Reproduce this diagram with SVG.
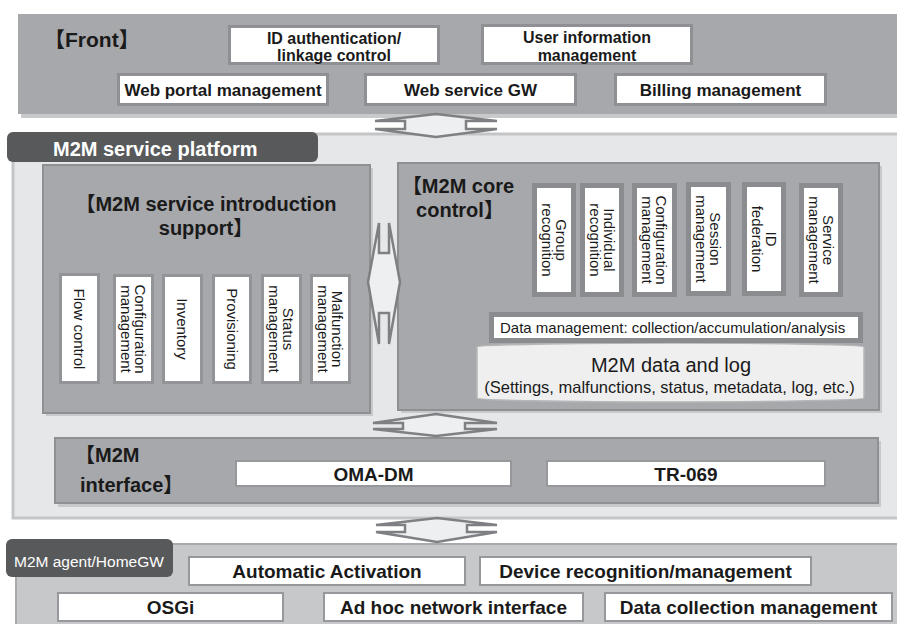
<svg xmlns="http://www.w3.org/2000/svg" width="897" height="624" viewBox="0 0 897 624">
<style>
  text { font-family: "Liberation Sans", "Noto Sans CJK JP", Arial, sans-serif; fill: #1a1a1a; }
  .b { font-weight: bold; }
  .c { text-anchor: middle; }
  .panel { fill: #a7a8ab; stroke: #8f9093; stroke-width: 2; }
  .shadow { fill: #c8c9cb; }
  .box { fill: #ffffff; stroke: #8f9093; stroke-width: 3; }
  .vbox { fill: #ffffff; stroke: #939497; stroke-width: 3; }
  .cbox { fill: #ffffff; stroke: #8b8c8f; stroke-width: 5; }
  .ibox { fill: #ffffff; stroke: #97989b; stroke-width: 2; }
  .tab { fill: #58595b; }
  .tabtxt { fill: #ffffff; }
  .arrow { fill: #eeeff1; stroke: #7f8083; stroke-width: 2.5; stroke-linejoin: miter; }
  .f16 { font-size: 16px; }
  .f17 { font-size: 17px; }
  .f19 { font-size: 19px; }
  .f20 { font-size: 20px; }
  .v { font-size: 15px; }
</style>

<!-- Front layer -->
<g id="front">
  <rect class="shadow" x="21" y="17" width="876" height="101"/>
  <rect x="18" y="14" width="879" height="100" fill="#a7a8ab"/>
  <text class="b" x="44" y="47" font-size="21">【Front】</text>
</g>
<g id="id-auth">
  <rect class="box" x="229.5" y="26.5" width="209" height="37"/>
  <text class="b c f16" x="334" y="43.5">ID authentication/</text>
  <text class="b c f16" x="334" y="61">linkage control</text>
</g>
<g id="user-info">
  <rect class="box" x="482.5" y="25.5" width="209" height="38"/>
  <text class="b c f16" x="587" y="43">User information</text>
  <text class="b c f16" x="587" y="60.5">management</text>
</g>
<g id="web-portal">
  <rect class="box" x="118.5" y="74.5" width="209" height="30"/>
  <text class="b c f17" x="223" y="96">Web portal management</text>
</g>
<g id="web-service-gw">
  <rect class="box" x="365.5" y="74.5" width="210" height="30"/>
  <text class="b c f17" x="470.5" y="96">Web service GW</text>
</g>
<g id="billing">
  <rect class="box" x="615.5" y="74.5" width="210" height="30"/>
  <text class="b c f17" x="720.5" y="96">Billing management</text>
</g>

<!-- M2M service platform -->
<g id="platform">
  <rect x="13" y="134" width="890" height="384" fill="#e6e7e9" stroke="#c4c5c7" stroke-width="3"/>
  <rect class="tab" x="7" y="132" width="311" height="30" rx="6"/>
  <text class="b tabtxt f20" x="53" y="156">M2M service platform</text>
</g>

<!-- Service introduction support -->
<g id="intro-support">
  <rect class="shadow" x="46" y="168" width="327" height="248"/>
  <rect class="panel" x="43" y="165" width="327" height="248"/>
  <text class="b c f20" x="206" y="211">【M2M service introduction</text>
  <text class="b c f20" x="206" y="235">support】</text>
</g>
<g id="flow-control">
  <rect class="vbox" x="60.5" y="274.5" width="38" height="108"/>
  <text class="v c" transform="translate(79.5,329) rotate(90)" y="5.3">Flow control</text>
</g>
<g id="intro-config">
  <rect class="vbox" x="114.5" y="275.5" width="38" height="107"/>
  <text class="v c" transform="translate(133.5,329) rotate(90)"><tspan x="0" y="-1.7">Configuration</tspan><tspan x="0" y="12.3">management</tspan></text>
</g>
<g id="inventory">
  <rect class="vbox" x="163.5" y="275.5" width="38" height="107"/>
  <text class="v c" transform="translate(182.5,329) rotate(90)" y="5.3">Inventory</text>
</g>
<g id="provisioning">
  <rect class="vbox" x="213.5" y="275.5" width="37" height="107"/>
  <text class="v c" transform="translate(232,329) rotate(90)" y="5.3">Provisioning</text>
</g>
<g id="status">
  <rect class="vbox" x="262.5" y="275.5" width="38" height="107"/>
  <text class="v c" transform="translate(281.5,329) rotate(90)"><tspan x="0" y="-1.7">Status</tspan><tspan x="0" y="12.3">management</tspan></text>
</g>
<g id="malfunction">
  <rect class="vbox" x="311.5" y="275.5" width="38" height="107"/>
  <text class="v c" transform="translate(330.5,329) rotate(90)"><tspan x="0" y="-1.7">Malfunction</tspan><tspan x="0" y="12.3">management</tspan></text>
</g>

<!-- Core control -->
<g id="core-control">
  <rect class="shadow" x="401" y="166" width="481" height="247"/>
  <rect class="panel" x="398" y="163" width="481" height="247"/>
  <text class="b c f20" x="458" y="193">【M2M core</text>
  <text class="b c f20" x="460" y="217">control】</text>
</g>
<g id="group-recognition">
  <rect class="cbox" x="534.5" y="185.5" width="39" height="109"/>
  <text class="v c" transform="translate(554,240) rotate(90)"><tspan x="0" y="-1.7">Group</tspan><tspan x="0" y="12.3">recognition</tspan></text>
</g>
<g id="individual-recognition">
  <rect class="cbox" x="582.5" y="185.5" width="39" height="109"/>
  <text class="v c" transform="translate(602,240) rotate(90)"><tspan x="0" y="-1.7">Individual</tspan><tspan x="0" y="12.3">recognition</tspan></text>
</g>
<g id="core-config">
  <rect class="cbox" x="634.5" y="185.5" width="40" height="109"/>
  <text class="v c" transform="translate(654.5,240) rotate(90)"><tspan x="0" y="-1.7">Configuration</tspan><tspan x="0" y="12.3">management</tspan></text>
</g>
<g id="session">
  <rect class="cbox" x="688.5" y="184.5" width="40" height="109"/>
  <text class="v c" transform="translate(708.5,239) rotate(90)"><tspan x="0" y="-1.7">Session</tspan><tspan x="0" y="12.3">management</tspan></text>
</g>
<g id="id-federation">
  <rect class="cbox" x="744.5" y="184.5" width="39" height="109"/>
  <text class="v c" transform="translate(764,239) rotate(90)"><tspan x="0" y="-1.7">ID</tspan><tspan x="0" y="12.3">federation</tspan></text>
</g>
<g id="service-mgmt">
  <rect class="cbox" x="801.5" y="185.5" width="39" height="109"/>
  <text class="v c" transform="translate(821,240) rotate(90)"><tspan x="0" y="-1.7">Service</tspan><tspan x="0" y="12.3">management</tspan></text>
</g>
<g id="data-log">
  <path d="M477,347 A193.5,4 0 0 1 864,347 V398 A193.5,4 0 0 1 477,398 Z" fill="#efeff0" stroke="#b5b6b8" stroke-width="1.5"/>
  <text class="c" x="671" y="372" font-size="20">M2M data and log</text>
  <text class="c" x="669.5" y="393" font-size="16.5">(Settings, malfunctions, status, metadata, log, etc.)</text>
</g>
<g id="data-mgmt">
  <rect class="cbox" x="491.5" y="314.5" width="369" height="26"/>
  <text x="500" y="333" font-size="15">Data management: collection/accumulation/analysis</text>
</g>

<!-- M2M interface -->
<g id="interface">
  <rect class="shadow" x="58" y="441" width="823" height="66"/>
  <rect class="panel" x="55" y="438" width="823" height="65"/>
  <text class="b" x="75" y="462" font-size="20">【M2M</text>
  <text class="b" x="80" y="492" font-size="20">interface】</text>
</g>
<g id="oma-dm">
  <rect class="ibox" x="236" y="461" width="275" height="25"/>
  <text class="b c f19" x="373.5" y="481">OMA-DM</text>
</g>
<g id="tr-069">
  <rect class="ibox" x="547" y="461" width="278" height="25"/>
  <text class="b c f19" x="686" y="481">TR-069</text>
</g>

<!-- M2M agent / HomeGW -->
<g id="home-gw">
  <rect x="16" y="544" width="885" height="85" fill="#c7c8ca" stroke="#a8a9ac" stroke-width="2"/>
  <rect class="tab" x="6" y="539" width="167" height="38" rx="6"/>
  <text class="tabtxt" x="14" y="567" font-size="15.5">M2M agent/HomeGW</text>
</g>
<g id="auto-activation">
  <rect class="ibox" x="189" y="557" width="276" height="28"/>
  <text class="b c f19" x="327" y="578">Automatic Activation</text>
</g>
<g id="device-recognition">
  <rect class="ibox" x="480" y="557" width="331" height="28"/>
  <text class="b c f19" x="645.5" y="578">Device recognition/management</text>
</g>
<g id="osgi">
  <rect class="ibox" x="58" y="593" width="225" height="28"/>
  <text class="b c f19" x="170.5" y="614">OSGi</text>
</g>
<g id="adhoc">
  <rect class="ibox" x="324" y="593" width="259" height="28"/>
  <text class="b c f19" x="453.5" y="614">Ad hoc network interface</text>
</g>
<g id="data-collection">
  <rect class="ibox" x="605" y="593" width="287" height="28"/>
  <text class="b c f19" x="748.5" y="614">Data collection management</text>
</g>

<!-- Connectors: double-headed block arrows -->
<g id="connectors">
  <polygon class="arrow" points="436,114 497,121 466,121 466,129 497,129 436,137 375,129 405,129 405,121 375,121"/>
  <polygon class="arrow" points="368,282 379,223 379,253 389,253 389,223 400,282 389,344 389,313 379,313 379,344"/>
  <polygon class="arrow" points="436,414 497,423 465,423 465,429 497,429 436,436 373,429 403,429 403,423 373,423"/>
  <polygon class="arrow" points="437,518 497,525 467,525 467,532 497,532 437,542 376,532 405,532 405,525 376,525"/>
</g>
</svg>
